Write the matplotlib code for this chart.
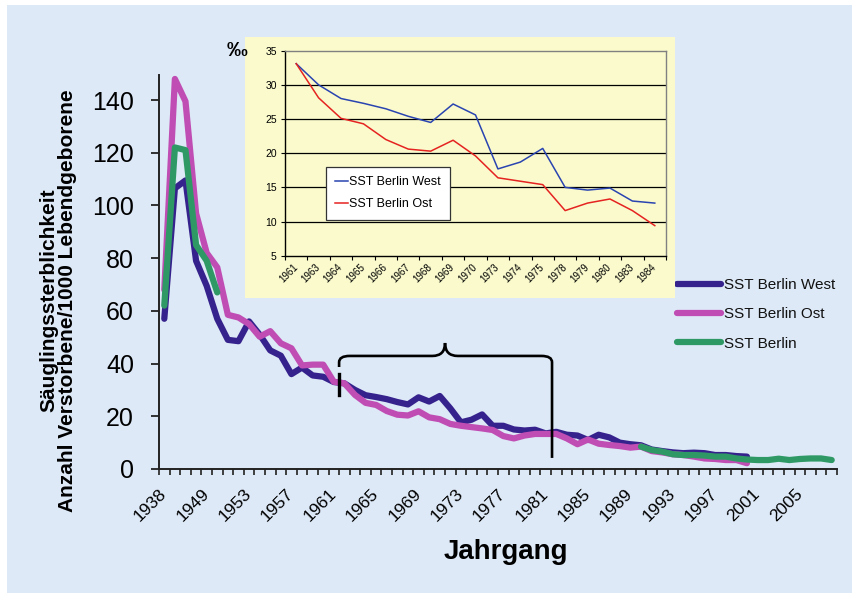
import numpy as np
import matplotlib
matplotlib.use('Agg')
import matplotlib.pyplot as plt
from matplotlib.patches import Rectangle, PathPatch
from matplotlib.path import Path
from matplotlib.ticker import FixedLocator

plt.rcParams['font.family'] = ['Liberation Sans', 'DejaVu Sans']

#------------------------------------------------------------------------------
# Daten
#------------------------------------------------------------------------------

# Jahrgaenge der Hauptgrafik (1938, dann 1946-2008)
jahre = [1938] + list(range(1946, 2009))

# Säuglingssterblichkeit West, 1938 und 1946-2000
sst_west = [57.0, 106.5, 109.5, 79.0, 69.5, 57.0, 49.0, 48.5, 56.0, 51.0,
            45.0, 43.0, 36.0, 38.5, 35.5, 35.0, 33.0, 32.5, 30.0, 28.0,
            27.3, 26.5, 25.4, 24.5, 27.2, 25.6, 27.7, 23.0, 17.7, 18.7,
            20.7, 16.4, 16.4, 15.0, 14.6, 14.9, 13.5, 14.1, 13.0, 12.7,
            11.0, 13.0, 12.0, 10.0, 9.4, 9.0, 7.4, 6.8, 6.3, 6.0,
            6.2, 6.0, 5.3, 5.3, 4.9, 4.7]

# Säuglingssterblichkeit Ost, 1938 und 1946-2000
sst_ost = [68.0, 148.0, 139.5, 97.0, 82.0, 76.5, 58.5, 57.5, 55.0, 50.2,
           52.3, 47.7, 45.8, 39.3, 39.6, 39.6, 33.1, 32.5, 28.1, 25.1,
           24.3, 22.0, 20.6, 20.3, 21.9, 19.6, 18.9, 17.1, 16.4, 15.9,
           15.4, 14.8, 12.5, 11.6, 12.7, 13.3, 13.3, 13.3, 11.6, 9.4,
           11.2, 9.6, 9.1, 8.7, 8.1, 8.5, 6.8, 6.3, 5.6, 5.3,
           4.7, 4.0, 3.8, 3.4, 3.4, 2.2]

# Gesamt-Berlin: 1938, 1946-1950 und 1990-2008
sst_berlin_frueh = [62.0, 122.0, 121.0, 85.0, 79.0, 67.0]
sst_berlin_spaet = [8.5, 7.2, 6.6, 5.6, 5.3, 5.3, 5.1, 4.7, 4.7, 4.0,
                    3.6, 3.4, 3.4, 3.9, 3.4, 3.8, 4.0, 4.0, 3.4]

# Inset 1961-1984
inset_jahre = ['1961', '1963', '1964', '1965', '1966', '1967', '1968', '1969',
               '1970', '1973', '1974', '1975', '1978', '1979', '1980', '1983',
               '1984']
inset_west = [33.1, 30.0, 28.0, 27.3, 26.5, 25.4, 24.5, 27.2, 25.6, 17.7,
              18.7, 20.7, 15.0, 14.6, 14.9, 13.0, 12.7]
inset_ost = [33.1, 28.1, 25.1, 24.3, 22.0, 20.6, 20.3, 21.9, 19.6, 16.4,
             15.9, 15.4, 11.6, 12.7, 13.3, 11.6, 9.4]

#------------------------------------------------------------------------------
# Farben
#------------------------------------------------------------------------------
HELLBLAU = '#dde9f7'
GELB = '#fafacd'
C_WEST = '#36228c'
C_OST = '#c04db3'
C_BERLIN = '#2f9966'

n = len(jahre)
x = np.arange(n)
west = np.full(n, np.nan)
west[:len(sst_west)] = sst_west
ost = np.full(n, np.nan)
ost[:len(sst_ost)] = sst_ost
berlin = np.full(n, np.nan)
berlin[:len(sst_berlin_frueh)] = sst_berlin_frueh
berlin[n - len(sst_berlin_spaet):] = sst_berlin_spaet

W, H = 858, 598
fig = plt.figure(figsize=(W / 100, H / 100), dpi=100)
fig.patch.set_facecolor('white')
fig.add_artist(Rectangle((7 / W, 5 / H), 845 / W, 588 / H, transform=fig.transFigure,
                         facecolor=HELLBLAU, edgecolor='none', zorder=-5))

#------------------------------------------------------------------------------
# Hauptgrafik
#------------------------------------------------------------------------------
ax = fig.add_axes([159 / W, 1 - 469 / H, 678 / W, 394 / H])
ax.patch.set_alpha(0)

kw = dict(lw=4.5, solid_capstyle='round', solid_joinstyle='round')
ax.plot(x, west, color=C_WEST, label='SST Berlin West', **kw)
ax.plot(x, ost, color=C_OST, label='SST Berlin Ost', **kw)
ax.plot(x, berlin, color=C_BERLIN, label='SST Berlin', **kw)

ax.set_xlim(-0.5, n - 0.5)
ax.set_ylim(0, 149.5)
for s in ['top', 'right']:
    ax.spines[s].set_visible(False)
for s in ['left', 'bottom']:
    ax.spines[s].set_color('#222222')
    ax.spines[s].set_linewidth(1.4)

ax.set_yticks(np.arange(0, 141, 20))
ax.tick_params(axis='y', length=6, width=1.3, color='#222222', labelsize=18, pad=12)

lab_pos = x[::4]
ax.set_xticks(lab_pos)
ax.set_xticklabels([str(jahre[i]) for i in lab_pos], rotation=45, ha='right',
                   va='center', rotation_mode='anchor')
ax.xaxis.set_minor_locator(FixedLocator(np.arange(-0.5, n, 1.0)))
ax.tick_params(axis='x', which='major', length=0, labelsize=12.5, pad=16)
ax.tick_params(axis='x', which='minor', length=4, width=1.2, color='#222222')

# Klammer 1961-1981
by = 42.9
pfad = Path([(16.5, 38.7), (16.5, 40.5), (16.5, by), (17.5, by), (25.3, by),
             (26.5, by), (26.5, 47.8), (26.5, by), (27.7, by), (35.6, by),
             (36.6, by), (36.6, 40.5), (36.6, 4.2)],
            [Path.MOVETO, Path.LINETO, Path.CURVE3, Path.CURVE3, Path.LINETO,
             Path.CURVE3, Path.CURVE3, Path.CURVE3, Path.CURVE3, Path.LINETO,
             Path.CURVE3, Path.CURVE3, Path.LINETO])
ax.add_patch(PathPatch(pfad, facecolor='none', edgecolor='black', lw=1.9, zorder=5))
ax.plot([16.5, 16.5], [28.0, 36.0], color='black', lw=2.4, zorder=5)

leg = ax.legend(loc='upper left', bbox_to_anchor=(677 / W, 1 - 278 / H),
                bbox_transform=fig.transFigure, frameon=False, fontsize=11,
                handlelength=2.9, handletextpad=0.2, labelspacing=1.0,
                borderpad=0, borderaxespad=0)
for t in leg.get_texts():
    t.set_color('#111111')

fig.text(58 / W, 0.498, 'Säuglingssterblichkeit\nAnzahl Verstorbene/1000 Lebendgeborene',
         rotation=90, ha='center', va='center', fontsize=15, fontweight='bold',
         linespacing=1.0, multialignment='center')
fig.text(506 / W, 1 - 552 / H, 'Jahrgang', ha='center', va='center',
         fontsize=20, fontweight='bold')

#------------------------------------------------------------------------------
# Inset 1961-1984
#------------------------------------------------------------------------------
ax_bg = fig.add_axes([245 / W, 1 - 298 / H, 430 / W, 261 / H], zorder=2)
ax_bg.set_facecolor(GELB)
ax_bg.set_xticks([])
ax_bg.set_yticks([])
for s in ax_bg.spines.values():
    s.set_visible(False)

ax_in = fig.add_axes([285 / W, 1 - 255.7 / H, 381 / W, 205 / H], zorder=3)
ax_in.set_facecolor(GELB)
xi = np.arange(len(inset_jahre))
ax_in.plot(xi, inset_west, color='#2a44b0', lw=1.1, label='SST Berlin West')
ax_in.plot(xi, inset_ost, color='#e52320', lw=1.1, label='SST Berlin Ost')
ax_in.set_xlim(-0.5, len(inset_jahre) - 0.5)
ax_in.set_ylim(5, 35)
ax_in.set_yticks(np.arange(5, 36, 5))
for v in range(10, 35, 5):
    ax_in.axhline(v, color='black', lw=0.9, zorder=0)
ax_in.spines['top'].set_color('#808080')
ax_in.spines['right'].set_color('#808080')
ax_in.spines['left'].set_color('black')
ax_in.spines['bottom'].set_color('black')
for s in ax_in.spines.values():
    s.set_linewidth(1.0)
ax_in.set_xticks(xi)
ax_in.set_xticklabels(inset_jahre, rotation=45, ha='right', va='center',
                      rotation_mode='anchor')
ax_in.xaxis.set_minor_locator(FixedLocator(np.arange(-0.5, len(inset_jahre), 1.0)))
ax_in.tick_params(axis='x', which='major', length=0, labelsize=7, pad=7)
ax_in.tick_params(axis='x', which='minor', length=3, width=0.8)
ax_in.tick_params(axis='y', length=3, width=0.8, labelsize=7.5, pad=3)

leg2 = ax_in.legend(loc='upper left', bbox_to_anchor=(326 / W, 1 - 167 / H),
                    bbox_transform=fig.transFigure, fontsize=9, fancybox=False,
                    framealpha=1, edgecolor='#333333', handlelength=1.0,
                    handletextpad=0.1, labelspacing=0.8, borderpad=0.75,
                    borderaxespad=0)
leg2.get_frame().set_linewidth(0.9)

fig.text(237 / W, 1 - 51 / H, '‰', ha='center', va='center', fontsize=15,
         fontweight='bold', zorder=6)

fig.savefig('out.png', dpi=100, facecolor=fig.get_facecolor())
